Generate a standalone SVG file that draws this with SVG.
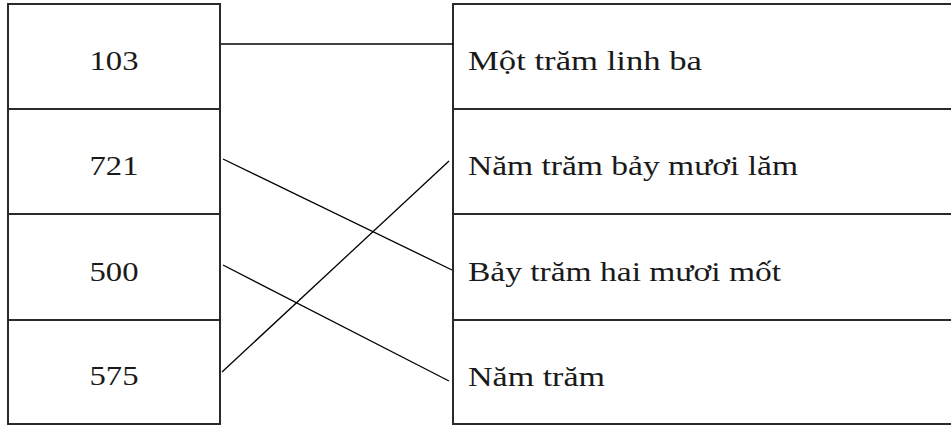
<svg xmlns="http://www.w3.org/2000/svg" width="951" height="425" viewBox="0 0 951 425">
<style>
.box{fill:#fff;stroke:#2a2a2a;stroke-width:2}
.div{stroke:#2a2a2a;stroke-width:2}
.conn{stroke:#000;stroke-width:1.3;fill:none}
text{font-family:"Liberation Serif","Times New Roman",serif;font-size:28px;fill:#1a1a1a}
.num{text-anchor:middle}
</style>
<rect width="951" height="425" fill="#fff"/>
<g id="left-column">
<rect class="box" x="8" y="4" width="212" height="420"/>
<line class="div" x1="8" y1="109" x2="220" y2="109"/>
<line class="div" x1="8" y1="214" x2="220" y2="214"/>
<line class="div" x1="8" y1="320" x2="220" y2="320"/>
</g>
<g id="right-column">
<rect class="box" x="453" y="4" width="510" height="420"/>
<line class="div" x1="453" y1="109" x2="951" y2="109"/>
<line class="div" x1="453" y1="214" x2="951" y2="214"/>
<line class="div" x1="453" y1="320" x2="951" y2="320"/>
</g>
<g id="n103"><text class="num" x="114" y="70" textLength="49" lengthAdjust="spacingAndGlyphs">103</text></g>
<g id="n721"><text class="num" x="114" y="175" textLength="49" lengthAdjust="spacingAndGlyphs">721</text></g>
<g id="n500"><text class="num" x="114" y="281" textLength="49" lengthAdjust="spacingAndGlyphs">500</text></g>
<g id="n575"><text class="num" x="114" y="385" textLength="49" lengthAdjust="spacingAndGlyphs">575</text></g>
<g id="w1"><text x="468" y="70" textLength="234" lengthAdjust="spacingAndGlyphs">Một trăm linh ba</text></g>
<g id="w2"><text x="468" y="175" textLength="330" lengthAdjust="spacingAndGlyphs">Năm trăm bảy mươi lăm</text></g>
<g id="w3"><text x="468" y="281" textLength="313" lengthAdjust="spacingAndGlyphs">Bảy trăm hai mươi mốt</text></g>
<g id="w4"><text x="468" y="386" textLength="137" lengthAdjust="spacingAndGlyphs">Năm trăm</text></g>
<g id="connectors">
<line class="conn" x1="221" y1="44" x2="453" y2="44"/>
<line class="conn" x1="223" y1="159" x2="452" y2="270"/>
<line class="conn" x1="222" y1="372" x2="449" y2="161"/>
<line class="conn" x1="223" y1="265" x2="449" y2="381"/>
</g>
</svg>
